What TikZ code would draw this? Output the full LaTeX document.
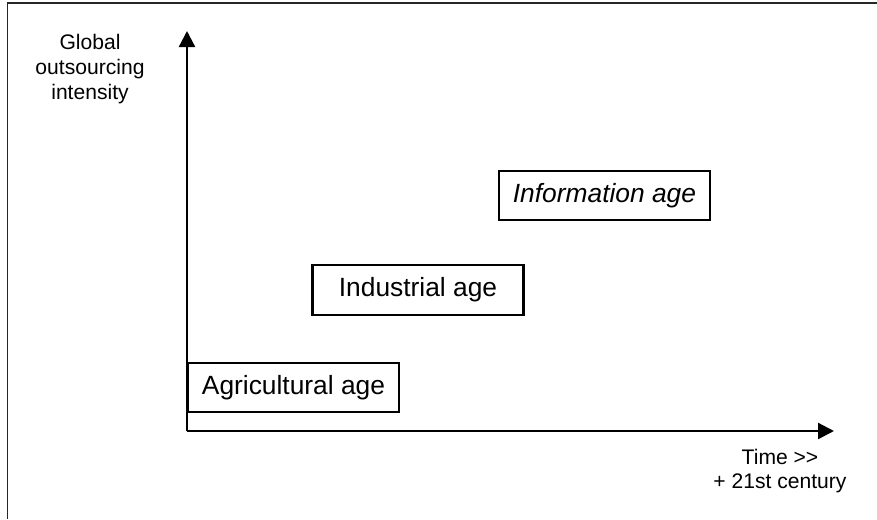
\documentclass[tikz,border=0pt]{standalone}
\usepackage{fontspec}
\setmainfont{Liberation Sans}
\usepackage{tikz}
\usetikzlibrary{positioning, arrows.meta}

\begin{document}
\begin{tikzpicture}[
          agebox/.style={rectangle, draw=black, line width=1.2pt, fill=white,
                      minimum width=4.22cm, minimum height=0.99cm,
                      inner sep=0pt, font=\fontsize{15}{18}\selectfont},
          axislabel/.style={align=center, font=\fontsize{12}{14}\selectfont},
          axis/.style={-{Triangle[length=0.32cm, width=0.32cm]}, line width=1.3pt}
        ]
        \useasboundingbox (0, 0) rectangle (17.54, 10.38);

        % frame of the cropped figure
        \draw[line width=1pt, black!85] (0.15, 0) -- (0.15, 10.32) -- (17.54, 10.32);

        \coordinate (origin) at (3.74, 1.76);
        \coordinate (ytip) at (3.74, 9.76);
        \coordinate (xtip) at (16.68, 1.76);

        \draw[axis] (origin) -- (ytip);
        \draw[axis] (origin) -- (xtip);

        \node[axislabel] (ylab) at (1.8, 9.0)
              {Global\\outsourcing\\intensity};
        \node[axislabel] (xlab) at (15.6, 0.96)
              {Time {>}{>}\\+ 21st century};

        \node[agebox] (agri) at (5.87, 2.63) {Agricultural age};
        \node[agebox] (indu) at (8.36, 4.58) {Industrial age};
        \node[agebox] (info) at (12.09, 6.47) {\itshape Information age};
      \end{tikzpicture}
\end{document}
